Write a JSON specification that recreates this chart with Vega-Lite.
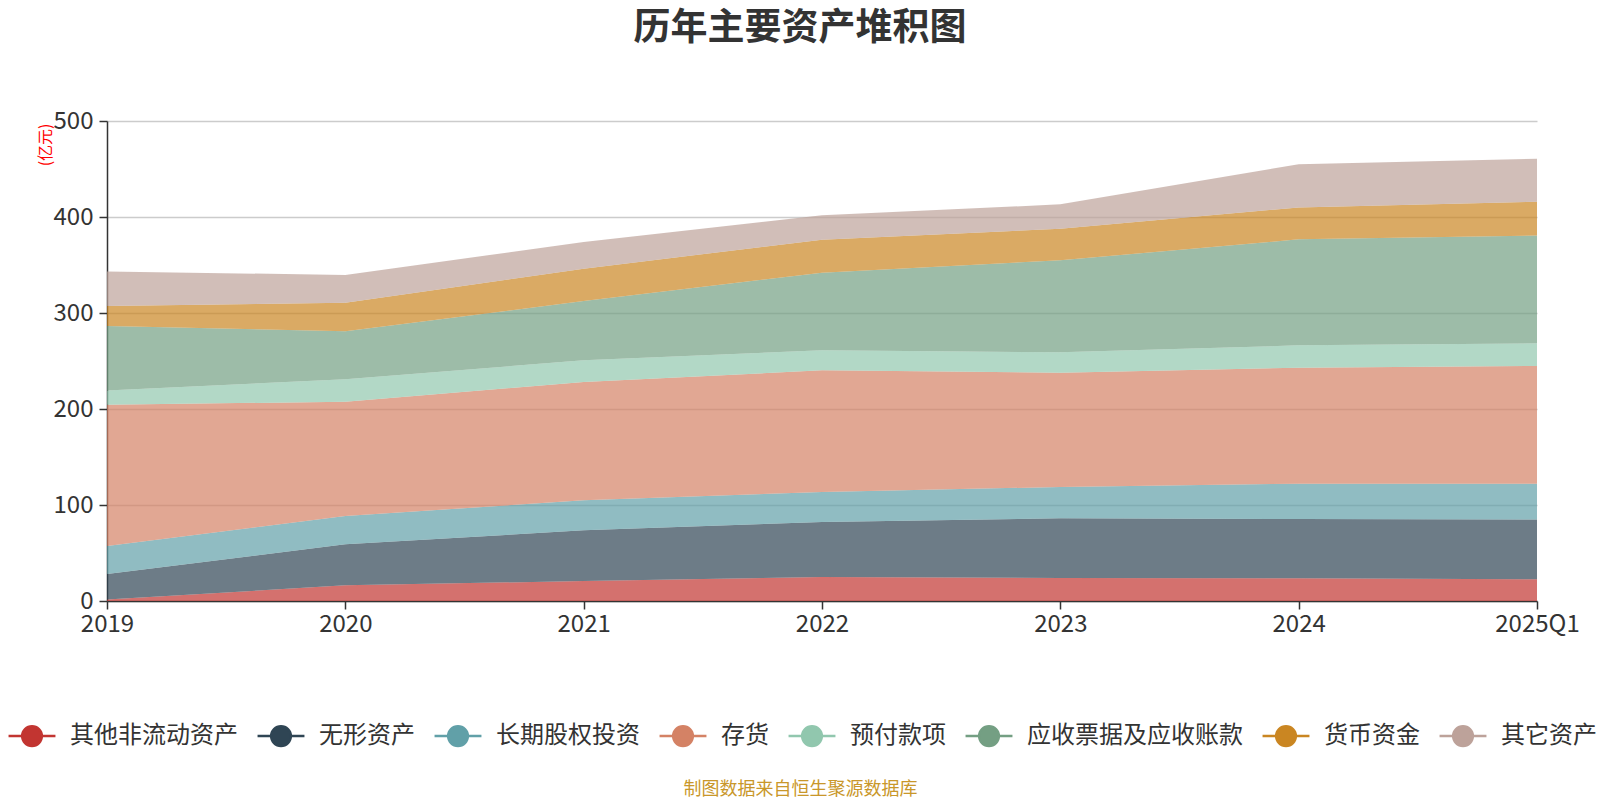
{
  "$schema": "https://vega.github.io/schema/vega-lite/v6.json",
  "width": 1430,
  "height": 480,
  "autosize": {"type": "none"},
  "padding": {"left": 107, "top": 121, "right": 63, "bottom": 199},
  "background": "white",
  "title": {
    "text": "历年主要资产堆积图",
    "font": "Noto Sans CJK SC",
    "fontSize": 37,
    "fontWeight": "bold",
    "color": "#333333",
    "anchor": "middle",
    "dx": -22,
    "offset": 61
  },
  "data": {
    "values": [
      {"year": "2019", "name": "其他非流动资产", "value": 1.5},
      {"year": "2019", "name": "无形资产", "value": 26.5},
      {"year": "2019", "name": "长期股权投资", "value": 29.2},
      {"year": "2019", "name": "存货", "value": 147.2},
      {"year": "2019", "name": "预付款项", "value": 14.9},
      {"year": "2019", "name": "应收票据及应收账款", "value": 67.1},
      {"year": "2019", "name": "货币资金", "value": 20.8},
      {"year": "2019", "name": "其它资产", "value": 36.1},
      {"year": "2020", "name": "其他非流动资产", "value": 16.3},
      {"year": "2020", "name": "无形资产", "value": 42.7},
      {"year": "2020", "name": "长期股权投资", "value": 29.5},
      {"year": "2020", "name": "存货", "value": 119.1},
      {"year": "2020", "name": "预付款项", "value": 23.3},
      {"year": "2020", "name": "应收票据及应收账款", "value": 50.0},
      {"year": "2020", "name": "货币资金", "value": 29.9},
      {"year": "2020", "name": "其它资产", "value": 28.8},
      {"year": "2021", "name": "其他非流动资产", "value": 20.8},
      {"year": "2021", "name": "无形资产", "value": 52.8},
      {"year": "2021", "name": "长期股权投资", "value": 31.3},
      {"year": "2021", "name": "存货", "value": 123.2},
      {"year": "2021", "name": "预付款项", "value": 22.6},
      {"year": "2021", "name": "应收票据及应收账款", "value": 61.8},
      {"year": "2021", "name": "货币资金", "value": 33.7},
      {"year": "2021", "name": "其它资产", "value": 27.8},
      {"year": "2022", "name": "其他非流动资产", "value": 25.0},
      {"year": "2022", "name": "无形资产", "value": 57.3},
      {"year": "2022", "name": "长期股权投资", "value": 31.2},
      {"year": "2022", "name": "存货", "value": 126.8},
      {"year": "2022", "name": "预付款项", "value": 20.8},
      {"year": "2022", "name": "应收票据及应收账款", "value": 80.9},
      {"year": "2022", "name": "货币资金", "value": 34.4},
      {"year": "2022", "name": "其它资产", "value": 25.3},
      {"year": "2023", "name": "其他非流动资产", "value": 24.0},
      {"year": "2023", "name": "无形资产", "value": 62.1},
      {"year": "2023", "name": "长期股权投资", "value": 32.7},
      {"year": "2023", "name": "存货", "value": 119.0},
      {"year": "2023", "name": "预付款项", "value": 21.2},
      {"year": "2023", "name": "应收票据及应收账款", "value": 95.9},
      {"year": "2023", "name": "货币资金", "value": 32.9},
      {"year": "2023", "name": "其它资产", "value": 25.4},
      {"year": "2024", "name": "其他非流动资产", "value": 23.6},
      {"year": "2024", "name": "无形资产", "value": 61.8},
      {"year": "2024", "name": "长期股权投资", "value": 36.8},
      {"year": "2024", "name": "存货", "value": 120.8},
      {"year": "2024", "name": "预付款项", "value": 23.3},
      {"year": "2024", "name": "应收票据及应收账款", "value": 110.4},
      {"year": "2024", "name": "货币资金", "value": 33.3},
      {"year": "2024", "name": "其它资产", "value": 44.9},
      {"year": "2025Q1", "name": "其他非流动资产", "value": 22.6},
      {"year": "2025Q1", "name": "无形资产", "value": 62.4},
      {"year": "2025Q1", "name": "长期股权投资", "value": 37.2},
      {"year": "2025Q1", "name": "存货", "value": 122.6},
      {"year": "2025Q1", "name": "预付款项", "value": 23.6},
      {"year": "2025Q1", "name": "应收票据及应收账款", "value": 112.2},
      {"year": "2025Q1", "name": "货币资金", "value": 35.4},
      {"year": "2025Q1", "name": "其它资产", "value": 44.8}
    ]
  },
  "transform": [
    {
      "calculate": "indexof(['其他非流动资产', '无形资产', '长期股权投资', '存货', '预付款项', '应收票据及应收账款', '货币资金', '其它资产'], datum.name)",
      "as": "layerOrder"
    }
  ],
  "mark": {"type": "area", "opacity": 0.7, "strokeWidth": 0},
  "encoding": {
    "x": {
      "field": "year",
      "type": "ordinal",
      "scale": {"type": "point", "padding": 0},
      "axis": {
        "labelAngle": 0,
        "labelFont": "Noto Sans CJK SC",
        "labelFontSize": 24,
        "labelColor": "#333333",
        "labelPadding": 3,
        "domainColor": "#333333",
        "domainWidth": 1.5,
        "tickColor": "#333333",
        "tickWidth": 1.5,
        "tickSize": 8,
        "grid": false,
        "title": "制图数据来自恒生聚源数据库",
        "titleFont": "Noto Sans CJK SC",
        "titleFontSize": 18,
        "titleFontWeight": "normal",
        "titleColor": "#c9972a",
        "titleX": 693,
        "titleY": 188,
        "titleAlign": "center",
        "titleBaseline": "middle"
      }
    },
    "y": {
      "field": "value",
      "type": "quantitative",
      "stack": "zero",
      "scale": {"domain": [0, 500], "nice": false},
      "axis": {
        "values": [0, 100, 200, 300, 400, 500],
        "labelFont": "Noto Sans CJK SC",
        "labelFontSize": 24,
        "labelColor": "#333333",
        "labelPadding": 6,
        "domainColor": "#333333",
        "domainWidth": 1.5,
        "tickColor": "#333333",
        "tickWidth": 1.5,
        "tickSize": 8,
        "grid": true,
        "gridColor": "#cccccc",
        "gridWidth": 1.5,
        "title": "(亿元)",
        "titleFont": "Noto Sans CJK SC",
        "titleFontSize": 16,
        "titleFontWeight": "normal",
        "titleColor": "#ff0000",
        "titleAngle": 270,
        "titleX": -62,
        "titleY": 2,
        "titleAlign": "right",
        "titleBaseline": "middle"
      }
    },
    "order": {"field": "layerOrder", "type": "quantitative", "sort": "ascending"},
    "color": {
      "field": "name",
      "type": "nominal",
      "sort": ["其他非流动资产", "无形资产", "长期股权投资", "存货", "预付款项", "应收票据及应收账款", "货币资金", "其它资产"],
      "scale": {
        "domain": ["其他非流动资产", "无形资产", "长期股权投资", "存货", "预付款项", "应收票据及应收账款", "货币资金", "其它资产"],
        "range": ["#c23531", "#2f4554", "#61a0a8", "#d48265", "#91c7ae", "#749f83", "#ca8622", "#bda29a"]
      },
      "legend": {
        "orient": "none",
        "direction": "horizontal",
        "legendX": -100,
        "legendY": 590,
        "title": null,
        "symbolType": "M-1,0H-0.42M0.42,0H1M-0.42,0A0.42,0.42,0,1,1,0.42,0A0.42,0.42,0,1,1,-0.42,0Z",
        "symbolSize": 2200,
        "symbolStrokeWidth": 2.5,
        "symbolOpacity": 1,
        "labelFont": "Noto Sans CJK SC",
        "labelFontSize": 24,
        "labelColor": "#333333",
        "labelOffset": 13,
        "labelLimit": 0,
        "columnPadding": 14,
        "encode": {
          "symbols": {
            "update": {
              "stroke": {"scale": "color", "field": "value"},
              "fill": {"scale": "color", "field": "value"},
              "opacity": {"value": 1}
            }
          }
        }
      }
    }
  },
  "config": {
    "view": {"stroke": null}
  }
}
